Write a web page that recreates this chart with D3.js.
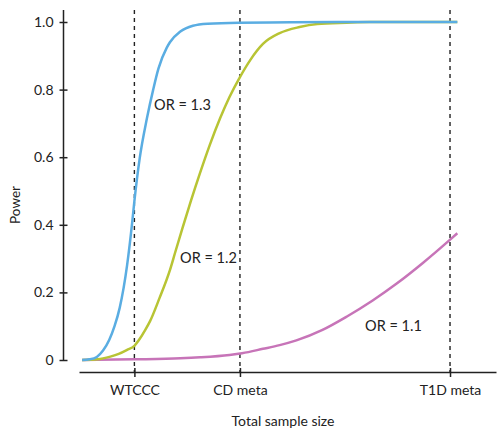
<!DOCTYPE html>
<html>
<head>
<meta charset="utf-8">
<script src="https://cdn.jsdelivr.net/npm/d3@7"></script>
<style>
  body { margin: 0; background: #fff; }
  text { font-family: Lato, "Noto Sans", sans-serif; fill: #222; }
</style>
</head>
<body>
<div id="chart"></div>
<script>
// study sizes marked on the x axis
var studyNames = ["WTCCC", "CD meta", "T1D meta"];
var studySizes = [5000, 15100, 35200];

// power curves
var or13Size  = [0, 700, 1400, 2000, 2600, 3100, 3600, 4300, 4800, 5000, 5500, 6200, 6800, 7300, 8100, 8400, 9400, 10600, 12000, 15000, 20000, 25600, 35900];
var or13Power = [0, 0.002, 0.009, 0.028, 0.06, 0.1, 0.155, 0.28, 0.41, 0.47, 0.595, 0.715, 0.8, 0.862, 0.924, 0.94, 0.972, 0.989, 0.995, 0.998, 0.999, 1.0, 1.0];

var or12Size  = [0, 1500, 2700, 3500, 4300, 5000, 5500, 6000, 6500, 7400, 8400, 8900, 9600, 10400, 11300, 12200, 13200, 14100, 15100, 16100, 17300, 18900, 20800, 22500, 25300, 27500, 35900];
var or12Power = [0, 0.002, 0.01, 0.018, 0.03, 0.042, 0.062, 0.087, 0.115, 0.183, 0.266, 0.318, 0.39, 0.47, 0.555, 0.635, 0.715, 0.778, 0.837, 0.888, 0.935, 0.967, 0.985, 0.994, 0.998, 1.0, 1.0];

var or11Size  = [0, 5000, 9400, 11300, 14100, 15300, 17300, 18900, 20500, 23000, 25300, 27800, 30100, 32600, 35100, 35900];
var or11Power = [0, 0.002, 0.005, 0.008, 0.015, 0.02, 0.033, 0.044, 0.058, 0.089, 0.128, 0.176, 0.226, 0.287, 0.353, 0.375];

var seriesNames = ["OR = 1.3", "OR = 1.2", "OR = 1.1"];
// where each series label sits, in data units (sample size, power)
var labelSize  = [6880, 9370, 27070];
var labelPower = [0.74, 0.287, 0.086];

var yTicks = [0, 0.2, 0.4, 0.6, 0.8, 1.0];

var colors = ["#5aade2", "#b8c434", "#c774b8"];

var width = 498, height = 430;

var svg = d3.select("#chart")
  .append("svg")
    .attr("width", width)
    .attr("height", height);

var x = d3.scaleLinear()
    .domain([-300, 39600])
    .range([79, 496]);

var y = d3.scaleLinear()
    .domain([0, 1])
    .range([360, 22]);

// dashed study markers
svg.selectAll("line.study")
  .data(studySizes)
  .enter()
  .append("line")
    .attr("class", "study")
    .attr("x1", function(d){ return x(d); })
    .attr("x2", function(d){ return x(d); })
    .attr("y1", 10)
    .attr("y2", 372)
    .attr("stroke", "#222")
    .attr("stroke-width", 1.4)
    .attr("stroke-dasharray", "4,4");

// x axis
var xAxis = svg.append("g")
    .attr("transform", "translate(0,372)")
    .call(d3.axisBottom(x)
      .tickValues(studySizes)
      .tickFormat(function(d,i){ return studyNames[i]; })
      .tickSizeOuter(0)
      .tickSize(0)
      .tickPadding(13));
xAxis.select(".domain").attr("stroke", "#222").attr("stroke-width", 1.5);
xAxis.selectAll(".tick line").attr("y1", -4).attr("y2", 5).attr("stroke", "#222").attr("stroke-width", 1.5);
xAxis.selectAll("text").style("font-size", "14px").style("font-family", "Lato, sans-serif").attr("fill", "#222");

// y axis
var yAxis = svg.append("g")
    .attr("transform", "translate(63.5,0)")
    .call(d3.axisLeft(y)
      .tickValues(yTicks)
      .tickFormat(function(d){ return d === 0 ? "0" : d.toFixed(1); })
      .tickSizeOuter(0)
      .tickSize(0)
      .tickPadding(10));
yAxis.select(".domain").attr("d", "M0," + 10 + "V" + y(0)).attr("stroke", "#222").attr("stroke-width", 1.5);
yAxis.selectAll(".tick line").attr("x1", -4).attr("x2", 4).attr("stroke", "#222").attr("stroke-width", 1.5);
yAxis.selectAll("text").style("font-size", "14px").style("font-family", "Lato, sans-serif").attr("fill", "#222");

// axis titles
svg.append("text")
    .attr("x", 283)
    .attr("y", 426)
    .attr("text-anchor", "middle")
    .style("font-size", "14px")
    .text("Total sample size");

svg.append("text")
    .attr("transform", "translate(20,205)rotate(-90)")
    .attr("text-anchor", "middle")
    .style("font-size", "13.5px")
    .text("Power");

// curves
var series = [
  d3.zip(or13Size, or13Power),
  d3.zip(or12Size, or12Power),
  d3.zip(or11Size, or11Power)
];

var line = d3.line()
    .x(function(d){ return x(d[0]); })
    .y(function(d){ return y(d[1]); })
    .curve(d3.curveMonotoneX);

// draw 1.1 first so blue ends up on top
for(i = series.length - 1; i >= 0; i--){
  svg.append("path")
    .datum(series[i])
    .attr("d", line)
    .attr("fill", "none")
    .attr("stroke", colors[i])
    .attr("stroke-width", 2.5);
}

svg.selectAll("text.orlabel")
  .data(seriesNames)
  .enter()
  .append("text")
    .attr("class", "orlabel")
    .attr("x", function(d,i){ return x(labelSize[i]); })
    .attr("y", function(d,i){ return y(labelPower[i]); })
    .style("font-size", "14.5px")
    .text(function(d){ return d; });
</script>
</body>
</html>
